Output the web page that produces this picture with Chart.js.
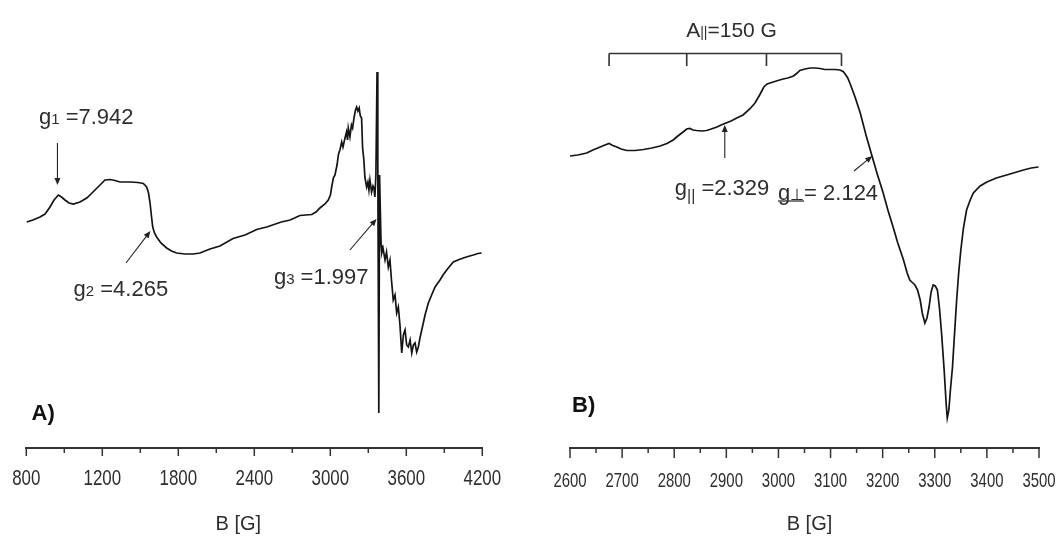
<!DOCTYPE html>
<html>
<head>
<meta charset="utf-8">
<title>EPR spectra</title>
<script src="https://cdn.jsdelivr.net/npm/chart.js@4.4.1/dist/chart.umd.min.js"></script>
<style>
  html, body { margin: 0; padding: 0; background: #fff; }
  #wrap { position: relative; width: 1059px; height: 537px; background: #fff; }
  canvas { position: absolute; top: 0; }
  #specA { left: 0; }
  #specB { left: 530px; }
</style>
</head>
<body>
<div id="wrap">
  <canvas id="specA" width="530" height="537"></canvas>
  <canvas id="specB" width="529" height="537"></canvas>
</div>
<script>
// ---- Spectrum A: wide sweep (field in G, first-derivative intensity in a.u.) ----
const fieldA = [603, 653, 708, 748, 787, 819, 853, 878, 905, 937, 971, 1024, 1077, 1111, 1142, 1182, 1221, 1261, 1300, 1340,
  1419, 1482, 1524, 1550, 1565, 1577, 1588, 1598, 1612, 1629, 1663, 1708, 1746, 1787, 1853, 1918, 1971, 2050, 2129, 2232,
  2327, 2419, 2498, 2613, 2683, 2760, 2853, 2887, 2918, 2958, 2984, 3001, 3011, 3024, 3037, 3053, 3065, 3076, 3090, 3100,
  3116, 3128, 3136, 3142, 3155, 3167, 3176, 3187, 3199, 3208, 3218, 3228, 3237, 3247, 3255, 3265, 3273, 3281, 3287, 3297,
  3305, 3313, 3326, 3337, 3344, 3352, 3360, 3369, 3375, 3383, 3389, 3394, 3401, 3406, 3416, 3432, 3444, 3458, 3471, 3483,
  3497, 3511, 3524, 3537, 3550, 3564, 3577, 3590, 3603, 3616, 3630, 3643, 3656, 3669, 3682, 3695, 3708, 3722, 3748, 3774,
  3800, 3827, 3866, 3890, 3919, 3971, 4008, 4050, 4087, 4129, 4166, 4195];
const intensityA = [26, 28, 31, 34, 41, 48, 53, 51, 48, 45, 44, 46, 50, 54, 58, 63, 68, 68.5, 67.5, 66,
  66, 65.5, 64.5, 61, 55, 45, 32, 21, 15, 11, 5, 0, -3, -5, -6, -6, -5, -1, 2, 9.5,
  13, 18.5, 21, 26, 28, 32.5, 33.5, 36, 40, 44, 48, 53, 61, 70, 73, 83, 94, 98, 106, 101,
  110, 116, 108, 120, 111, 123, 120, 130, 138, 141, 137, 140, 132, 130, 100, 88, 71, 65, 61, 66,
  58, 68, 56, 62, 60, 51, 73, 176, 88, -165, 73, 43, 3, -5, 0, -12, -4, -19, -12, -32,
  -52, -47, -65, -59, -77, -105, -87, -82, -97, -99, -92, -105, -97, -95, -104, -99, -90, -82, -67, -55,
  -47, -39, -32, -27, -22, -14, -12, -10, -8.5, -7, -5.5, -5];

// Field axis of A: marks every 300 G, numbered every 600 G (labels as printed on the axis)
const majorTicksA = [600, 1200, 1800, 2400, 3000, 3600, 4200];
const minorTicksA = [900, 1500, 2100, 2700, 3300, 3900];
const tickLabelsA = ['800', '1200', '1800', '2400', '3000', '3600', '4200'];

// ---- Spectrum B: narrow sweep around the Cu(II) signal ----
const fieldB = [2600, 2615, 2632, 2644, 2658, 2667, 2675, 2682, 2690, 2698, 2709, 2725, 2741, 2757, 2773, 2786, 2798, 2807, 2817, 2824,
  2830, 2836, 2843, 2853, 2862, 2871, 2882, 2890, 2897, 2909, 2920, 2932, 2945, 2955, 2965, 2972, 2978, 2990, 2999, 3009,
  3018, 3029, 3036, 3041, 3051, 3061, 3070, 3080, 3089, 3099, 3109, 3118, 3124, 3128, 3133, 3137, 3147, 3157, 3168, 3179,
  3189, 3201, 3210, 3220, 3229, 3240, 3247, 3252, 3258, 3262, 3267, 3272, 3276, 3281, 3285, 3289, 3293, 3297, 3301, 3305,
  3309, 3313, 3318, 3322, 3324, 3327, 3330, 3334, 3338, 3342, 3346, 3350, 3355, 3361, 3368, 3374, 3387, 3400, 3418, 3438,
  3454, 3470, 3485, 3499];
const intensityB = [92, 93, 95, 98, 101, 103, 104.5, 102.5, 101, 99, 97.5, 97.5, 98.5, 100, 102, 104.5, 108, 112, 116, 119,
  119.5, 118, 117.5, 117, 117.5, 119, 121, 123, 124.5, 127, 130, 133, 139, 145, 154, 161, 164, 166, 167.5, 169,
  170, 172, 175, 177.5, 179, 180, 180, 179.5, 178.5, 178.5, 178.5, 178, 176.5, 174, 170, 165, 151, 135, 113, 93,
  75, 55, 38, 21, 5, -12, -25, -32, -35, -37, -42, -52, -65, -75, -70, -59, -44, -37, -38, -42,
  -60, -85, -122, -157, -170, -162, -142, -119, -85, -52, -24, -2, 20, 38, 48, 55, 62, 66, 70, 73,
  75.5, 78, 80, 81];

const majorTicksB = [2600, 2700, 2800, 2900, 3000, 3100, 3200, 3300, 3400, 3500];
const minorTicksB = [2650, 2750, 2850, 2950, 3050, 3150, 3250, 3350, 3450];
const tickLabelsB = ['2600', '2700', '2800', '2900', '3000', '3100', '3200', '3300', '3400', '3500'];

// ---- Annotations (anchors in field / intensity units) ----
const notesA = {
  labels: [
    { at: [700, 124],   parts: [['g', 'main'], ['1', 'sub'], [' =7.942', 'main']] },
    { at: [973, -48],   parts: [['g', 'main'], ['2', 'sub'], [' =4.265', 'main']] },
    { at: [2555, -36],  parts: [['g', 'main'], ['3', 'sub'], [' =1.997', 'main']] }
  ],
  arrows: [
    { from: [846, 105],   to: [846, 63] },
    { from: [1387, -15],  to: [1580, 17] },
    { from: [3155, -2],   to: [3365, 29] }
  ],
  panel: { text: 'A)', at: [641, -172] },
  title: { text: 'B [G]', dx: -16 },
  majors: majorTicksA, minors: minorTicksA, tickText: tickLabelsA,
  majorLen: 8, minorLen: 5,
  tickFont: 22, tickSqueeze: 0.77, tickBaseline: 37
};

const notesB = {
  labels: [
    { at: [2801, 53],  parts: [['g', 'main'], ['||', 'subLow'], [' =2.329', 'main']] },
    { at: [2999, 48],  parts: [['g', 'main', true], ['\u22A5', 'perp', true], ['= 2.124', 'main']] },
    { at: [2823, 211], parts: [['A', 'hfs'], ['||', 'subHfs'], ['=150 G', 'hfs']] }
  ],
  arrows: [
    { from: [2897, 90],  to: [2897, 123] },
    { from: [3145, 77],  to: [3180, 92] }
  ],
  bracket: { lines: [2675, 2824, 2977, 3121], level: 194.5, drop: 182 },
  panel: { text: 'B)', at: [2604, -164] },
  title: { text: 'B [G]', dx: 5 },
  majors: majorTicksB, minors: minorTicksB, tickText: tickLabelsB,
  majorLen: 10, minorLen: 5,
  tickFont: 21, tickSqueeze: 0.71, tickBaseline: 39
};

const SANS = '"Liberation Sans", Arial, sans-serif';
const INK = '#141414';
const TEXT = '#2e2e2e';

const textStyles = {
  main:   { font: '22px ' + SANS, dy: 0 },
  sub:    { font: '15px ' + SANS, dy: 0 },
  subLow: { font: '16px ' + SANS, dy: 6 },
  perp:   { font: '16px "DejaVu Sans", ' + SANS, dy: 0 },
  hfs:    { font: '21px ' + SANS, dy: 0 },
  subHfs: { font: '14px ' + SANS, dy: 0 }
};

function drawParts(ctx, x, y, parts) {
  let cx = x;
  let uStart = null, uEnd = null;
  for (const [txt, styleName, underline] of parts) {
    const st = textStyles[styleName];
    ctx.font = st.font;
    ctx.fillText(txt, cx, y + st.dy);
    const w = ctx.measureText(txt).width;
    if (underline) { if (uStart === null) uStart = cx; uEnd = cx + w; }
    cx += w;
  }
  if (uStart !== null) {
    ctx.beginPath();
    ctx.lineWidth = 1.3;
    ctx.moveTo(uStart, y + 1);
    ctx.lineTo(uEnd, y + 1);
    ctx.stroke();
  }
}

function drawArrow(ctx, x1, y1, x2, y2) {
  const ang = Math.atan2(y2 - y1, x2 - x1);
  const len = 7, half = 3;
  ctx.beginPath();
  ctx.lineWidth = 1.1;
  ctx.moveTo(x1, y1);
  ctx.lineTo(x2 - Math.cos(ang) * len * 0.7, y2 - Math.sin(ang) * len * 0.7);
  ctx.stroke();
  ctx.beginPath();
  ctx.moveTo(x2, y2);
  ctx.lineTo(x2 - Math.cos(ang) * len + Math.sin(ang) * half, y2 - Math.sin(ang) * len - Math.cos(ang) * half);
  ctx.lineTo(x2 - Math.cos(ang) * len - Math.sin(ang) * half, y2 - Math.sin(ang) * len + Math.cos(ang) * half);
  ctx.closePath();
  ctx.fill();
}

// Draws tick marks of two lengths, condensed tick numbers, g-factor labels,
// arrows, the hyperfine bracket and panel tags
const eprDecor = {
  id: 'eprDecor',
  afterDraw(chart, args, opts) {
    const { ctx } = chart;
    const sx = chart.scales.x, sy = chart.scales.y;
    const px = v => sx.getPixelForValue(v);
    const py = v => sy.getPixelForValue(v);
    ctx.save();
    ctx.strokeStyle = '#333';
    ctx.fillStyle = TEXT;

    // tick marks hanging from the field axis
    const base = sx.top;
    ctx.lineWidth = 1.5;
    for (const t of opts.majors) {
      const X = px(t);
      ctx.beginPath(); ctx.moveTo(X, base); ctx.lineTo(X, base + opts.majorLen); ctx.stroke();
    }
    for (const t of opts.minors) {
      const X = px(t);
      ctx.beginPath(); ctx.moveTo(X, base); ctx.lineTo(X, base + opts.minorLen); ctx.stroke();
    }

    // tick numbers (narrow lettering)
    ctx.font = opts.tickFont + 'px ' + SANS;
    ctx.textAlign = 'center';
    ctx.textBaseline = 'alphabetic';
    opts.majors.forEach((t, i) => {
      ctx.save();
      ctx.translate(px(t), base + opts.tickBaseline);
      ctx.scale(opts.tickSqueeze, 1);
      ctx.fillText(opts.tickText[i], 0, 0);
      ctx.restore();
    });

    // axis title
    ctx.font = '20px ' + SANS;
    ctx.textBaseline = 'middle';
    ctx.fillText(opts.title.text, (sx.left + sx.right) / 2 + opts.title.dx, sx.bottom - 13);

    ctx.textAlign = 'left';
    ctx.textBaseline = 'alphabetic';

    // g-factor labels
    for (const lab of opts.labels) {
      drawParts(ctx, px(lab.at[0]), py(lab.at[1]), lab.parts);
    }

    // arrows
    ctx.strokeStyle = '#222';
    ctx.fillStyle = '#222';
    for (const a of opts.arrows) {
      drawArrow(ctx, px(a.from[0]), py(a.from[1]), px(a.to[0]), py(a.to[1]));
    }

    // hyperfine bracket
    if (opts.bracket) {
      const b = opts.bracket;
      ctx.strokeStyle = '#333';
      ctx.lineWidth = 1.6;
      ctx.beginPath();
      ctx.moveTo(px(b.lines[0]), py(b.level));
      ctx.lineTo(px(b.lines[b.lines.length - 1]), py(b.level));
      for (const f of b.lines) {
        ctx.moveTo(px(f), py(b.level));
        ctx.lineTo(px(f), py(b.drop));
      }
      ctx.stroke();
    }

    // panel tag
    ctx.fillStyle = '#111';
    ctx.font = 'bold 22px ' + SANS;
    ctx.fillText(opts.panel.text, px(opts.panel.at[0]), py(opts.panel.at[1]));
    ctx.restore();
  }
};

function buildSpectrum(canvasId, fields, values, xMin, xMax, majors, notes, pad) {
  const points = fields.map((f, i) => ({ x: f, y: values[i] }));
  return new Chart(document.getElementById(canvasId), {
    type: 'line',
    data: {
      datasets: [{
        data: points,
        borderColor: INK,
        borderWidth: 1.7,
        pointRadius: 0,
        tension: 0,
        fill: false
      }]
    },
    options: {
      responsive: false,
      animation: false,
      devicePixelRatio: 1,
      layout: { padding: pad },
      plugins: {
        legend: { display: false },
        tooltip: { enabled: false },
        eprDecor: notes
      },
      scales: {
        x: {
          type: 'linear',
          min: xMin,
          max: xMax,
          afterBuildTicks: scale => { scale.ticks = majors.map(v => ({ value: v })); },
          afterFit: scale => { scale.height = 89; },
          grid: { display: false, drawTicks: false },
          border: { display: true, color: '#333', width: 2 },
          ticks: { display: false },
          title: { display: false }
        },
        y: {
          display: false,
          min: -200,
          max: 200
        }
      }
    },
    plugins: [eprDecor]
  });
}

buildSpectrum('specA', fieldA, intensityA, 600, 4200, majorTicksA, notesA,
  { top: 48, left: 26.3, right: 47.7, bottom: 0 });
buildSpectrum('specB', fieldB, intensityB, 2600, 3500, majorTicksB, notesB,
  { top: 48, left: 40, right: 20, bottom: 0 });
</script>
</body>
</html>
